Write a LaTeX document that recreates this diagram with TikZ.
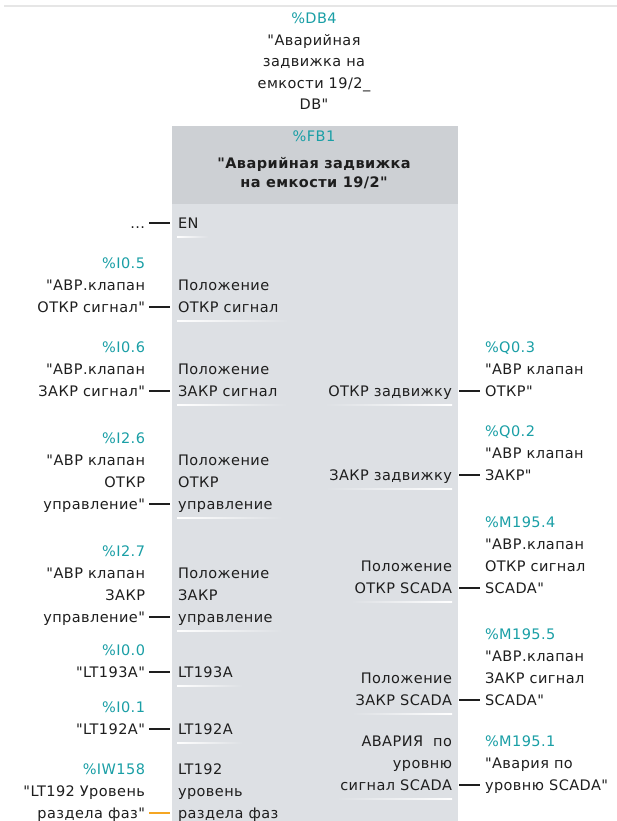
\documentclass[tikz,border=0pt]{standalone}
\usepackage{fontspec}
\setmainfont{DejaVu Sans}[LetterSpace=3, Ligatures=TeXOff]
\usetikzlibrary{calc}
\definecolor{addrc}{HTML}{1A9FA6}
\definecolor{headc}{HTML}{CDD0D4}
\definecolor{bodyc}{HTML}{DDE0E4}
\definecolor{txtc}{HTML}{1E1E1E}
\definecolor{orangec}{HTML}{F5A623}
\definecolor{topline}{HTML}{E6E6E6}
\newcommand{\ad}[1]{\textcolor{addrc}{#1}}
\newcommand{\tabR}[1]{\begin{tabular}[b]{@{}r@{}}#1\end{tabular}}
\newcommand{\tabL}[1]{\begin{tabular}[b]{@{}l@{}}#1\end{tabular}}
\newcommand{\tabC}[1]{\begin{tabular}[b]{@{}c@{}}#1\end{tabular}}
\newcommand{\lpin}[5]{%
  \node[extl] (e#1) at (145,{#2+5}) {\tabR{#3}};
  \node[pinl] (p#1) at (178,{#2+5}) {\tabL{#4}};
  \coordinate (es#1) at (149,#2);
  \coordinate (ps#1) at (170,#2);
  \draw[stub,draw=#5] (es#1) -- (ps#1);
  \shade[left color=white,right color=bodyc] ($(p#1.base west)+(-1,8)$) rectangle ($(p#1.base east)+(10,9.5)$);
}
\newcommand{\rpin}[4]{%
  \node[pinr] (q#1) at (452,{#2+5}) {\tabR{#3}};
  \node[extr] (f#1) at (485,{#2+5}) {\tabL{#4}};
  \coordinate (qs#1) at (459,#2);
  \coordinate (fs#1) at (480,#2);
  \draw[stub] (qs#1) -- (fs#1);
  \shade[left color=bodyc,right color=white] ($(q#1.base west)+(-4,8)$) rectangle ($(q#1.base east)+(0,9.5)$);
}
\begin{document}
\begin{tikzpicture}[x=1pt,y=-1pt,
  every node/.style={inner sep=0pt, outer sep=0pt, text=txtc, font=\fontsize{14.5}{22}\selectfont},
  extl/.style={anchor=base east},
  extr/.style={anchor=base west},
  pinl/.style={anchor=base west},
  pinr/.style={anchor=base east},
  stub/.style={line width=2pt, draw=txtc}]
\useasboundingbox (0,0) rectangle (617,821);
\fill[white] (0,0) rectangle (617,821);
\draw[topline, line width=1.5pt] (4,6) -- (617,6);
\fill[headc] (172,126) rectangle (458,204);
\fill[bodyc] (172,204) rectangle (458,821);
% instance DB
\node[anchor=base, font=\fontsize{14.5}{21.5}\selectfont] (db) at (314,110)
  {\tabC{\ad{\%DB4}\\"Аварийная\\задвижка на\\емкости 19/2\_\\DB"}};
% FB header
\node[anchor=base] (fbaddr) at (314,142) {\ad{\%FB1}};
\node[anchor=base, font=\fontsize{14.5}{20}\selectfont\bfseries] (fbname) at (314,188)
  {\tabC{"Аварийная задвижка\\на емкости 19/2"}};
% left pins
\lpin{0}{223}{...}{EN}{txtc}
\lpin{1}{307}{\ad{\%I0.5}\\"АВР.клапан\\ОТКР сигнал"}{Положение\\ОТКР сигнал}{txtc}
\lpin{2}{391}{\ad{\%I0.6}\\"АВР.клапан\\ЗАКР сигнал"}{Положение\\ЗАКР сигнал}{txtc}
\lpin{3}{504}{\ad{\%I2.6}\\"АВР клапан\\ОТКР\\управление"}{Положение\\ОТКР\\управление}{txtc}
\lpin{4}{617}{\ad{\%I2.7}\\"АВР клапан\\ЗАКР\\управление"}{Положение\\ЗАКР\\управление}{txtc}
\lpin{5}{672}{\ad{\%I0.0}\\"LT193A"}{LT193A}{txtc}
\lpin{6}{729}{\ad{\%I0.1}\\"LT192A"}{LT192A}{txtc}
\lpin{7}{813}{\ad{\%IW158}\\"LT192 Уровень\\раздела фаз"}{LT192\\уровень\\раздела фаз}{orangec}
% right pins
\rpin{1}{391}{ОТКР задвижку}{\ad{\%Q0.3}\\"АВР клапан\\ОТКР"}
\rpin{2}{475}{ЗАКР задвижку}{\ad{\%Q0.2}\\"АВР клапан\\ЗАКР"}
\rpin{3}{588}{Положение\\ОТКР SCADA}{\ad{\%M195.4}\\"АВР.клапан\\ОТКР сигнал\\SCADA"}
\rpin{4}{700}{Положение\\ЗАКР SCADA}{\ad{\%M195.5}\\"АВР.клапан\\ЗАКР сигнал\\SCADA"}
\rpin{5}{785}{АВАРИЯ~ по\\уровню\\сигнал SCADA}{\ad{\%M195.1}\\"Авария по\\уровню SCADA"}
\end{tikzpicture}
\end{document}
